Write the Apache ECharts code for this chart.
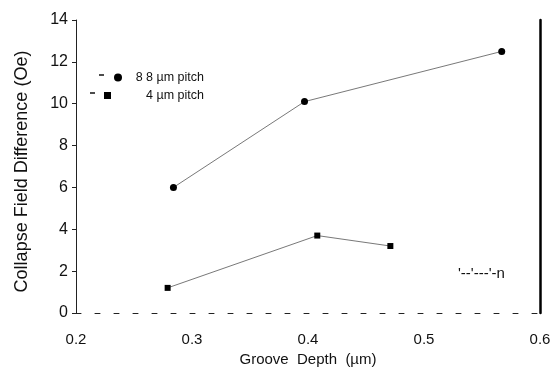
<!DOCTYPE html>
<html><head><meta charset="utf-8">
<script src="https://cdn.jsdelivr.net/npm/echarts@6/dist/echarts.min.js"></script>
<style>html,body{margin:0;padding:0;background:#fff}#c{width:558px;height:376px}</style>
</head><body><div id="c"></div>
<script>
const xTicks = [0.2, 0.3, 0.4, 0.5, 0.6];
const yTicks = [0, 2, 4, 6, 8, 10, 12, 14];
const pitch8Depth = [0.284, 0.397, 0.567];
const pitch8Values = [6.0, 10.1, 12.5];
const pitch4Depth = [0.279, 0.408, 0.471];
const pitch4Values = [1.2, 3.7, 3.2];
const seriesNames = ['8 8 µm pitch', '4 µm pitch'];

const chart = echarts.init(document.getElementById('c'));
const font = 'Liberation Sans, Arial, sans-serif';
function legendStyle(w) {
  return { fontFamily: font, fontSize: 12.5, color: '#111',
    rich: { t: { fontFamily: font, fontSize: 12.5, color: '#111', width: w, align: 'right' } } };
}
chart.setOption({
  animation: false,
  grid: { left: 76, right: 18, top: 20, bottom: 63 },
  legend: [{
    left: 114, top: 71, padding: 0, itemWidth: 8, itemHeight: 8, itemGap: 5,
    textStyle: legendStyle(77), formatter: n => '{t|' + n + '}',
    data: [{ name: seriesNames[0], icon: 'circle' }]
  }, {
    left: 104, top: 89, padding: 0, itemWidth: 7, itemHeight: 7, itemGap: 5,
    textStyle: legendStyle(88), formatter: n => '{t|' + n + '}',
    data: [{ name: seriesNames[1], icon: 'rect' }]
  }],
  xAxis: {
    type: 'value', min: xTicks[0], max: xTicks[xTicks.length - 1], interval: 0.1,
    name: 'Groove  Depth  (µm)', nameLocation: 'middle', nameGap: 36,
    nameTextStyle: { fontFamily: font, fontSize: 15, color: '#111' },
    axisLine: { show: true, lineStyle: { color: '#222', width: 1, type: [5, 14] } },
    axisTick: { show: false },
    splitLine: { show: false },
    axisLabel: { fontFamily: font, fontSize: 15, color: '#111', margin: 19,
      formatter: v => v.toFixed(1) }
  },
  yAxis: [{
    type: 'value', min: yTicks[0], max: yTicks[yTicks.length - 1], interval: 2,
    name: 'Collapse Field Difference (Oe)', nameLocation: 'middle', nameGap: 45,
    nameTextStyle: { fontFamily: font, fontSize: 18, color: '#111', padding: [0, 10, 0, 0] },
    axisLine: { show: true, lineStyle: { color: '#222', width: 1 } },
    axisTick: { show: true, length: 4, lineStyle: { color: '#222' } },
    splitLine: { show: false },
    axisLabel: { fontFamily: font, fontSize: 16, color: '#111', margin: 8 }
  }, {
    type: 'value', min: yTicks[0], max: yTicks[yTicks.length - 1], interval: 2,
    position: 'right',
    axisLine: { show: true, lineStyle: { color: '#000', width: 2.5 } },
    axisTick: { show: false }, axisLabel: { show: false }, splitLine: { show: false }
  }],
  series: [{
    name: seriesNames[0], type: 'line',
    data: pitch8Depth.map((d, i) => [d, pitch8Values[i]]),
    symbol: 'circle', symbolSize: 7,
    itemStyle: { color: '#000' },
    lineStyle: { color: '#555', width: 0.8 }
  }, {
    name: seriesNames[1], type: 'line',
    data: pitch4Depth.map((d, i) => [d, pitch4Values[i]]),
    symbol: 'rect', symbolSize: 6,
    itemStyle: { color: '#000' },
    lineStyle: { color: '#555', width: 0.8 }
  }],
  graphic: [{
    type: 'text', left: 458, top: 266,
    style: { text: "'--'---'-n", fontFamily: font, fontSize: 15, fill: '#111' }
  }, {
    type: 'line', shape: { x1: 99, y1: 75, x2: 104, y2: 75 }, style: { stroke: '#111', lineWidth: 1.5 }
  }, {
    type: 'line', shape: { x1: 90, y1: 93, x2: 95, y2: 93 }, style: { stroke: '#111', lineWidth: 1.5 }
  }]
});
</script></body></html>
